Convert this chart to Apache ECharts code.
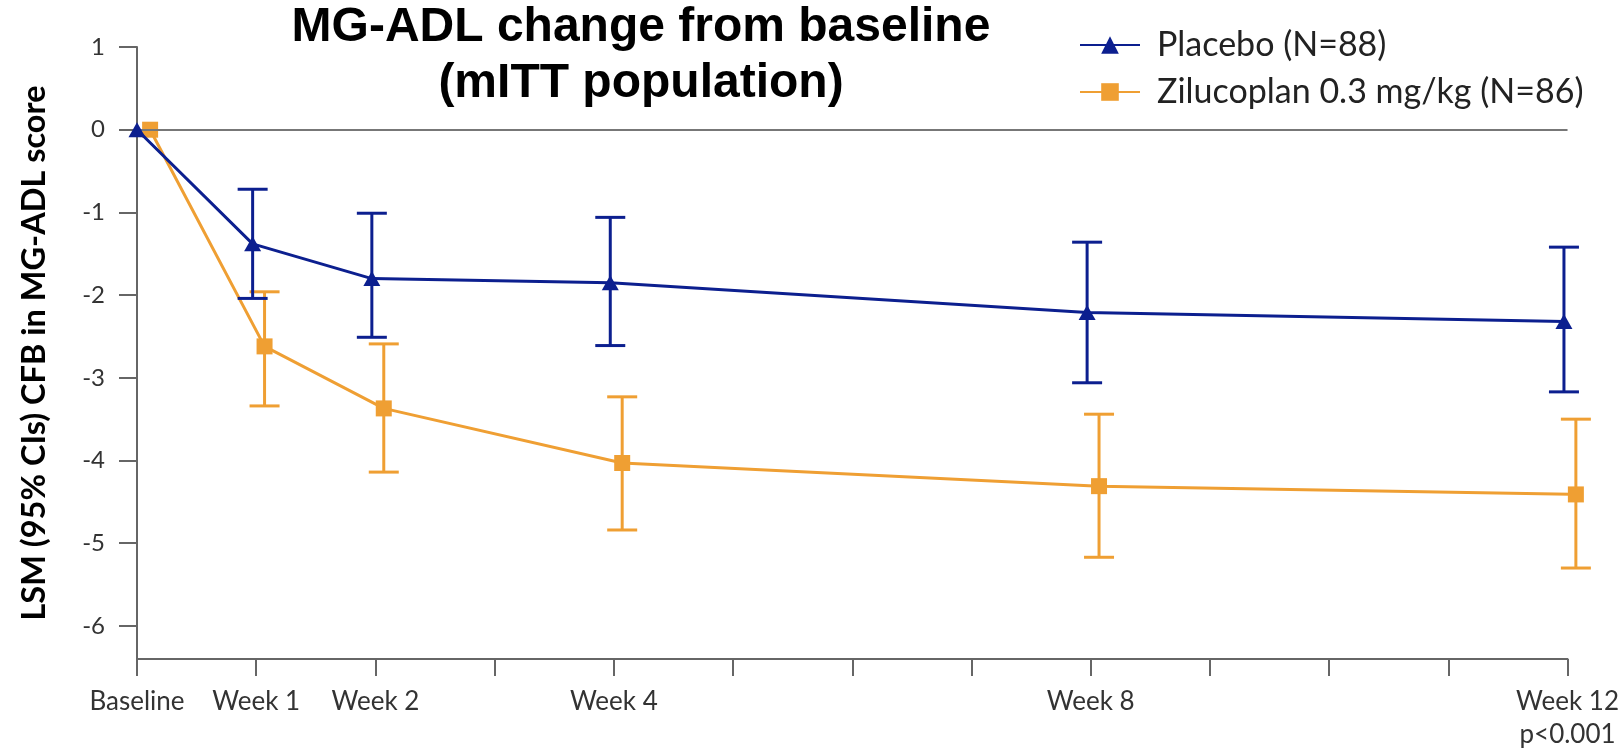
<!DOCTYPE html>
<html>
<head>
<meta charset="utf-8">
<script src="https://cdn.jsdelivr.net/npm/echarts@6/dist/echarts.min.js"></script>
<style>
  html, body { margin: 0; padding: 0; background: #fff; }
  #chart { width: 1622px; height: 751px; }
</style>
</head>
<body>
<div id="chart"></div>
<script>
// weeks on the x axis (value axis, one tick per week)
var weeks = [0, 1, 2, 4, 8, 12];
var weekLabels = { 0: "Baseline", 1: "Week 1", 2: "Week 2", 4: "Week 4", 8: "Week 8", 12: "Week 12\np<0.001" };
var yTicks = [1, 0, -1, -2, -3, -4, -5, -6];

// LSM change from baseline with 95% CI
var placeboMean = [0, -1.38, -1.80, -1.85, -2.21, -2.32];
var placeboLow  = [null, -2.04, -2.51, -2.61, -3.06, -3.17];
var placeboHigh = [null, -0.72, -1.01, -1.06, -1.36, -1.42];

var ziluMean = [0, -2.62, -3.37, -4.03, -4.31, -4.41];
var ziluLow  = [null, -3.34, -4.14, -4.84, -5.17, -5.30];
var ziluHigh = [null, -1.96, -2.59, -3.23, -3.44, -3.50];

var BLUE = "#0c1f8f";
var ORANGE = "#ef9f33";
// small horizontal dodge (in weeks) so the two groups don't overlap
var placeboShift = -0.03;
var ziluShift = 0.07;

function points(mean, shift) {
    return weeks.map(function (w, i) { return [w + (i === 0 ? 0 : shift), mean[i]]; });
}
function bars(low, high, shift) {
    var out = [];
    weeks.forEach(function (w, i) {
        if (low[i] === null) return;
        out.push([w + shift, low[i], high[i]]);
    });
    return out;
}
function errorBar(color) {
    return function (params, api) {
        var x = api.value(0);
        var lo = api.coord([x, api.value(1)]);
        var hi = api.coord([x, api.value(2)]);
        var half = 15;
        var st = { stroke: color, lineWidth: 3 };
        return {
            type: "group",
            children: [
                { type: "line", shape: { x1: hi[0], y1: hi[1], x2: lo[0], y2: lo[1] }, style: st },
                { type: "line", shape: { x1: hi[0] - half, y1: hi[1], x2: hi[0] + half, y2: hi[1] }, style: st },
                { type: "line", shape: { x1: lo[0] - half, y1: lo[1], x2: lo[0] + half, y2: lo[1] }, style: st }
            ]
        };
    };
}

var ziluPts = points(ziluMean, ziluShift);
ziluPts[0][0] = 0.11;

var myChart = echarts.init(document.getElementById("chart"));
var option = {
    animation: false,
    grid: { left: 137, right: 50, top: 47, bottom: 88 },
    graphic: [
        {
            type: "text",
            x: 641,
            y: 0,
            style: {
                text: "MG-ADL change from baseline\n(mITT population)",
                font: 'bold 48px "Liberation Sans", Arial, sans-serif',
                fill: "#000",
                textAlign: "center",
                textVerticalAlign: "top",
                lineHeight: 56
            }
        }
    ],
    legend: {
        orient: "vertical",
        left: 1074,
        top: 20,
        itemWidth: 60,
        itemHeight: 22,
        itemGap: 7,
        textStyle: { fontFamily: "Lato", fontSize: 34, color: "#222", lineHeight: 40, padding: [0, 0, 0, 12] },
        data: ["Placebo (N=88)", "Zilucoplan 0.3 mg/kg (N=86)"]
    },
    xAxis: {
        type: "value",
        min: 0,
        max: 12,
        interval: 1,
        splitLine: { show: false },
        axisLine: { show: true, onZero: false, lineStyle: { color: "#666", width: 2 } },
        axisTick: { show: true, length: 17, lineStyle: { color: "#666", width: 2 } },
        axisLabel: {
            margin: 26,
            fontFamily: "Lato",
            fontSize: 26,
            lineHeight: 33,
            color: "#333",
            formatter: function (v) { return weekLabels[v] || ""; }
        }
    },
    yAxis: {
        type: "value",
        min: -6.4,
        max: 1,
        splitLine: { show: false },
        axisLine: { show: true, lineStyle: { color: "#666", width: 2 } },
        axisTick: { show: true, length: 18, customValues: yTicks, lineStyle: { color: "#666", width: 2 } },
        axisLabel: {
            margin: 32,
            fontFamily: "Lato",
            fontSize: 24,
            color: "#333",
            customValues: yTicks
        },
        name: "LSM (95% CIs) CFB in MG-ADL score",
        nameLocation: "middle",
        nameGap: 86,
        nameTextStyle: { fontFamily: "Lato", fontWeight: "bold", fontSize: 32.5, color: "#000" }
    },
    series: [
        {
            type: "custom",
            name: "Zilucoplan CI",
            renderItem: errorBar(ORANGE),
            data: bars(ziluLow, ziluHigh, ziluShift),
            clip: false,
            z: 2
        },
        {
            type: "line",
            name: "Zilucoplan 0.3 mg/kg (N=86)",
            data: ziluPts,
            symbol: "rect",
            symbolSize: 16,
            clip: false,
            itemStyle: { color: ORANGE },
            lineStyle: { color: ORANGE, width: 3 },
            z: 3
        },
        {
            type: "custom",
            name: "Placebo CI",
            renderItem: errorBar(BLUE),
            data: bars(placeboLow, placeboHigh, placeboShift),
            clip: false,
            z: 4
        },
        {
            type: "line",
            name: "Placebo (N=88)",
            data: points(placeboMean, placeboShift),
            symbol: "triangle",
            symbolSize: [17, 15],
            clip: false,
            itemStyle: { color: BLUE },
            lineStyle: { color: BLUE, width: 3 },
            markLine: {
                silent: true,
                symbol: "none",
                label: { show: false },
                lineStyle: { color: "#777", width: 2, type: "solid" },
                data: [{ yAxis: 0 }]
            },
            z: 5
        }
    ]
};
myChart.setOption(option);
</script>
</body>
</html>
